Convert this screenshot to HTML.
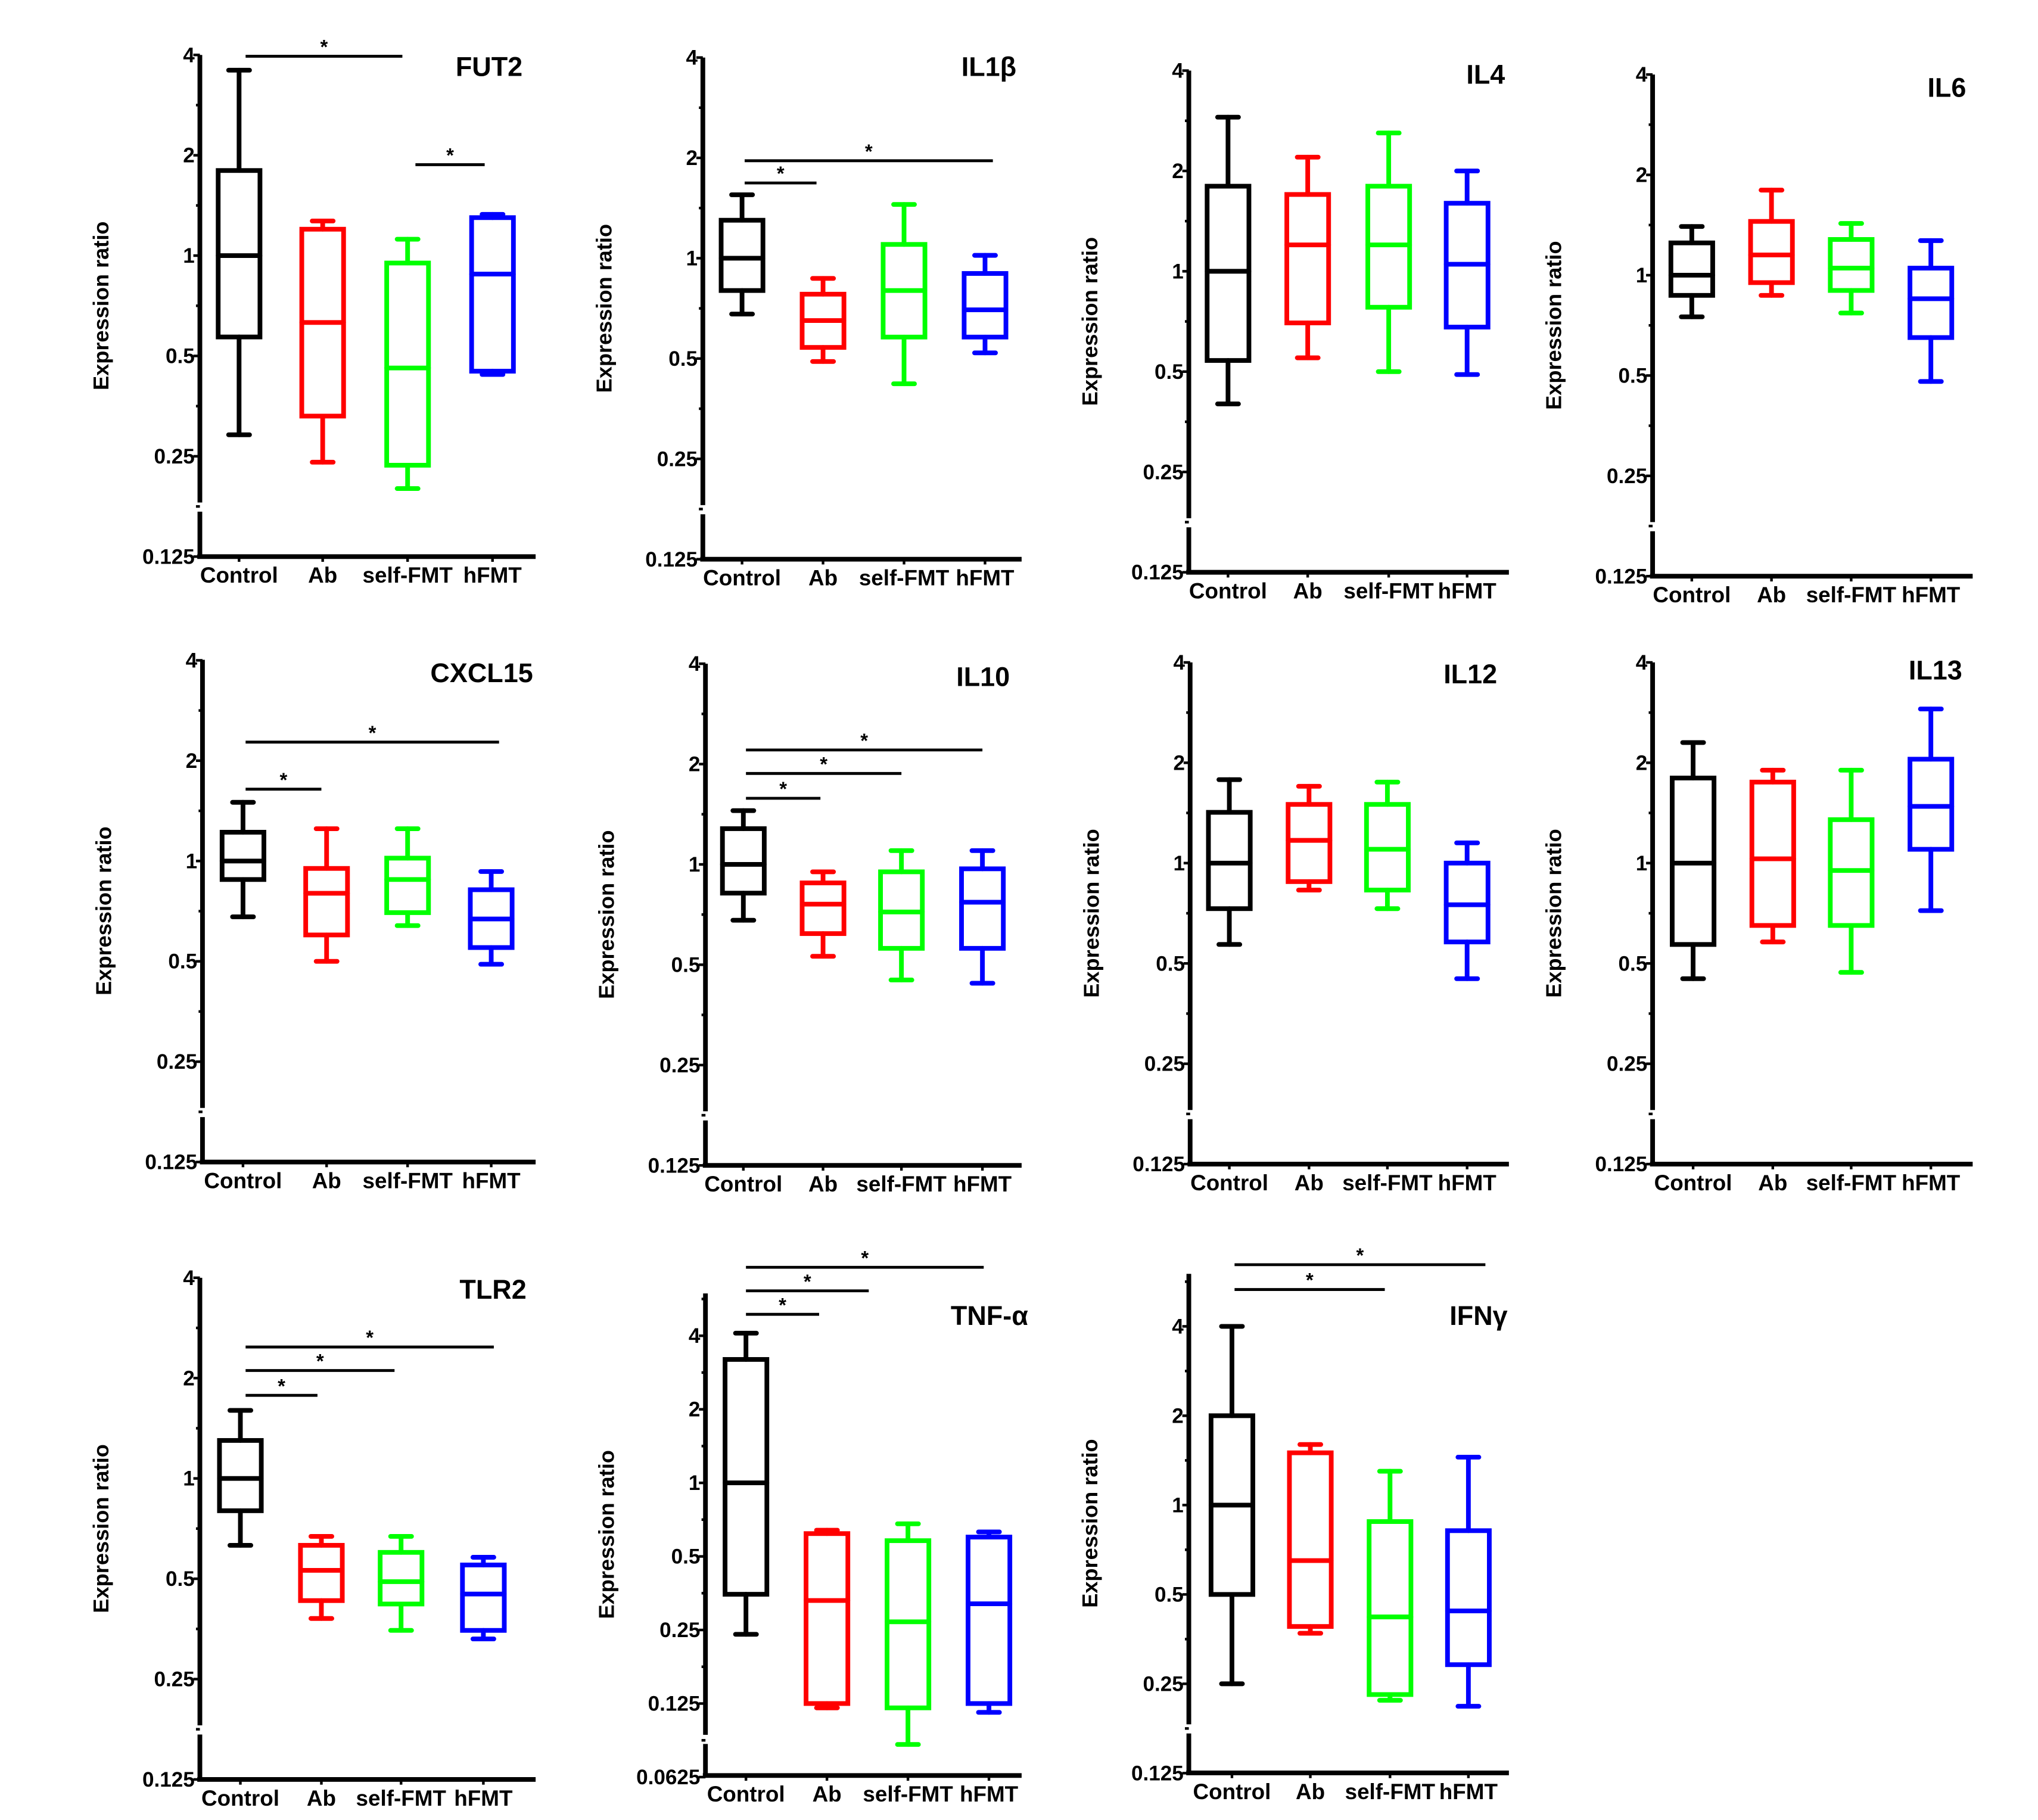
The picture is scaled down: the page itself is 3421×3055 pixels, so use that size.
<!DOCTYPE html>
<html><head><meta charset="utf-8"><style>
html,body{margin:0;padding:0;background:#fff}
svg{display:block}
text{font-family:"Liberation Sans",sans-serif;font-weight:bold;fill:#000}
</style></head><body>
<svg id="fig" width="3421" height="3055" viewBox="0 0 1560 1393" xmlns="http://www.w3.org/2000/svg"></svg>
<script>
const categories = ["Control","Ab","self-FMT","hFMT"];
const colors = ["#000000","#ff0000","#00ff00","#0000ff"];
// [min, q1, median, q3, max] per group
const fut2Data   = [[0.29,0.57,1,1.8,3.6],[0.24,0.33,0.63,1.2,1.27],[0.2,0.235,0.46,0.95,1.12],[0.44,0.45,0.88,1.3,1.33]];
const il1bData   = [[0.68,0.8,1,1.3,1.55],[0.49,0.54,0.65,0.78,0.87],[0.42,0.58,0.8,1.1,1.45],[0.52,0.58,0.7,0.9,1.02]];
const il4Data    = [[0.4,0.54,1,1.8,2.9],[0.55,0.7,1.2,1.7,2.2],[0.5,0.78,1.2,1.8,2.6],[0.49,0.68,1.05,1.6,2.0]];
const il6Data    = [[0.75,0.87,1,1.25,1.4],[0.87,0.95,1.15,1.45,1.8],[0.77,0.9,1.05,1.28,1.43],[0.48,0.65,0.85,1.05,1.27]];
const cxcl15Data = [[0.68,0.88,1,1.22,1.5],[0.5,0.6,0.8,0.95,1.25],[0.64,0.7,0.88,1.02,1.25],[0.49,0.55,0.67,0.82,0.93]];
const il10Data   = [[0.68,0.82,1,1.28,1.45],[0.53,0.62,0.76,0.88,0.95],[0.45,0.56,0.72,0.95,1.1],[0.44,0.56,0.77,0.97,1.1]];
const il12Data   = [[0.57,0.73,1,1.42,1.78],[0.83,0.88,1.17,1.5,1.7],[0.73,0.83,1.1,1.5,1.75],[0.45,0.58,0.75,1,1.15]];
const il13Data   = [[0.45,0.57,1,1.8,2.3],[0.58,0.65,1.03,1.75,1.9],[0.47,0.65,0.95,1.35,1.9],[0.72,1.1,1.48,2.05,2.9]];
const tlr2Data   = [[0.63,0.8,1,1.3,1.6],[0.38,0.43,0.53,0.63,0.67],[0.35,0.42,0.49,0.6,0.67],[0.33,0.35,0.45,0.55,0.58]];
const tnfData    = [[0.24,0.35,1,3.2,4.1],[0.12,0.125,0.33,0.62,0.64],[0.085,0.12,0.27,0.58,0.68],[0.115,0.125,0.32,0.6,0.63]];
const ifngData   = [[0.25,0.5,1,2,4],[0.37,0.39,0.65,1.5,1.6],[0.22,0.23,0.42,0.88,1.3],[0.21,0.29,0.44,0.82,1.45]];
const ticksStd = ["0.125","0.25","0.5","1","2","4"];
const ticksTnf = ["0.0625","0.125","0.25","0.5","1","2","4"];
const ticksIfn = ["0.125","0.25","0.5","1","2","4"];
// significance: [fromGroup, toGroup]
const sigFut2 = [[0,2],[2.1,3]];
const sigIl1b = [[0,1],[0,3]];
const sigCx = [[0,1],[0,3]];
const sigIl10 = [[0,1],[0,2],[0,3]];
const sigTlr2 = [[0,1],[0,2],[0,3]];
const sigTnf = [[0,1],[0,2],[0,3]];
const sigIfn = [[0,2],[0,3]];

// layout (positions, not data)
const panels = [
 {id:"fut2",title:"FUT2",data:fut2Data,ticks:ticksStd,ax:153,yOne:195.6,oct:76.8,yBot:426,yTop:42,xEnd:410,cx:[183,247,312,377],tx:400,ty:58,sig:sigFut2,sigY:[43,126],sigX0:[188,318],sigX1:[308,371]},
 {id:"il1b",title:"IL1β",data:il1bData,ticks:ticksStd,ax:538,yOne:197.6,oct:76.8,yBot:428,yTop:44,xEnd:782,cx:[568,630,692,754],tx:778,ty:58,sig:sigIl1b,sigY:[140,123],sigX0:[570,570],sigX1:[625,760]},
 {id:"il4",title:"IL4",data:il4Data,ticks:ticksStd,ax:910,yOne:207.6,oct:76.8,yBot:438,yTop:54,xEnd:1155,cx:[940,1001,1063,1123],tx:1152,ty:64,sig:[]},
 {id:"il6",title:"IL6",data:il6Data,ticks:ticksStd,ax:1265,yOne:210.6,oct:76.8,yBot:441,yTop:57,xEnd:1510,cx:[1295,1356,1417,1478],tx:1505,ty:74,sig:[]},
 {id:"cxcl15",title:"CXCL15",data:cxcl15Data,ticks:ticksStd,ax:155,yOne:659,oct:76.8,yBot:889.4,yTop:505,xEnd:410,cx:[186,250,312,376],tx:408,ty:522,sig:sigCx,sigY:[604,568],sigX0:[188,188],sigX1:[246,382]},
 {id:"il10",title:"IL10",data:il10Data,ticks:ticksStd,ax:540,yOne:661.6,oct:76.8,yBot:892,yTop:508,xEnd:782,cx:[569,630,690,752],tx:773,ty:525,sig:sigIl10,sigY:[611,592,574],sigX0:[571,571,571],sigX1:[628,690,752]},
 {id:"il12",title:"IL12",data:il12Data,ticks:ticksStd,ax:911,yOne:660.6,oct:76.8,yBot:891,yTop:507,xEnd:1155,cx:[941,1002,1062,1123],tx:1146,ty:523,sig:[]},
 {id:"il13",title:"IL13",data:il13Data,ticks:ticksStd,ax:1265,yOne:660.6,oct:76.8,yBot:891,yTop:507,xEnd:1510,cx:[1296,1357,1417,1478],tx:1502,ty:520,sig:[]},
 {id:"tlr2",title:"TLR2",data:tlr2Data,ticks:ticksStd,ax:153,yOne:1131.6,oct:76.8,yBot:1362,yTop:978,xEnd:410,cx:[184,246,307,370],tx:403,ty:994,sig:sigTlr2,sigY:[1068,1049,1031],sigX0:[188,188,188],sigX1:[243,302,378]},
 {id:"tnf",title:"TNF-α",data:tnfData,ticks:ticksTnf,ax:540,yOne:1135,oct:56.3,yBot:1359,yTop:990,xEnd:782,cx:[571,633,695,757],tx:787,ty:1014,sig:sigTnf,sigY:[1006,988,970],sigX0:[571,571,571],sigX1:[627,665,753]},
 {id:"ifng",title:"IFNγ",data:ifngData,ticks:ticksIfn,ax:910,yOne:1152,oct:68.4,yBot:1357,yTop:975,xEnd:1155,cx:[943,1003,1064,1124],tx:1154,ty:1014,sig:sigIfn,sigY:[987,968],sigX0:[945,945],sigX1:[1060,1137]}
];
const svg = document.getElementById('fig');
const NS = "http://www.w3.org/2000/svg";
function mk(tag, attrs, parent){const e=document.createElementNS(NS,tag);for(const k in attrs)e.setAttribute(k,attrs[k]);(parent||svg).appendChild(e);return e;}
const SW=3.6;
panels.forEach(p=>{
  const g = mk('g',{});
  
  
  const yS = v => p.yOne - Math.log2(v)*p.oct;
  const brk = p.yBot - p.oct*0.5;
  const ya = mk('path',{d:`M${p.ax},${p.yTop} V${brk-3} M${p.ax},${brk+4} V${p.yBot}`,stroke:'#000','stroke-width':SW,fill:'none'},g);
  
  
  const xa = mk('line',{x1:p.ax-2,y1:p.yBot,x2:p.xEnd,y2:p.yBot,stroke:'#000','stroke-width':SW},g);
  
  
  p.ticks.forEach((t,i)=>{
    const y = yS(parseFloat(t));
    mk('line',{x1:p.ax-5,y1:y,x2:p.ax,y2:y,stroke:'#000','stroke-width':2},g);
    const ym = y - p.oct/2;
    if(i<p.ticks.length-1 || ym>p.yTop) mk('line',{x1:p.ax-3,y1:ym,x2:p.ax,y2:ym,stroke:'#000','stroke-width':2},g);
    const tl = mk('text',{x:p.ax-4,y:y+5.5,'text-anchor':'end','font-size':16},g);
    tl.textContent=t;
    
    
  });
  const ymid=(p.yTop+p.yBot)/2;
  const yl = mk('text',{x:0,y:0,'text-anchor':'middle','font-size':16.5,transform:`translate(${p.ax-70},${ymid}) rotate(-90)`},g);
  yl.textContent='Expression ratio';
  
  
  const tt = mk('text',{x:p.tx,y:p.ty,'text-anchor':'end','font-size':20.5},g);
  tt.textContent=p.title;
  
  
  categories.forEach((c,i)=>{
    const x=p.cx[i];
    mk('line',{x1:x,y1:p.yBot,x2:x,y2:p.yBot+4,stroke:'#000','stroke-width':2},g);
    const cl = mk('text',{x:x,y:p.yBot+20,'text-anchor':'middle','font-size':16.8},g);
    cl.textContent=c;
    
    
    const d=p.data[i], col=colors[i], hw=16, cw=8;
    const bg = mk('g',{stroke:col,'stroke-width':SW,fill:'none','stroke-linecap':'round'},g);
    
    
    mk('line',{x1:x,y1:yS(d[0]),x2:x,y2:yS(d[1])},bg);
    mk('line',{x1:x,y1:yS(d[3]),x2:x,y2:yS(d[4])},bg);
    mk('line',{x1:x-cw,y1:yS(d[0]),x2:x+cw,y2:yS(d[0])},bg);
    mk('line',{x1:x-cw,y1:yS(d[4]),x2:x+cw,y2:yS(d[4])},bg);
    mk('rect',{x:x-hw,y:yS(d[3]),width:2*hw,height:yS(d[1])-yS(d[3]),'stroke-linecap':'square'},bg);
    mk('line',{x1:x-hw,y1:yS(d[2]),x2:x+hw,y2:yS(d[2])},bg);
  });
  p.sig.forEach((s,k)=>{
    const y=p.sigY[k], x0=p.sigX0[k], x1=p.sigX1[k];
    const sl = mk('line',{x1:x0,y1:y,x2:x1,y2:y,stroke:'#000','stroke-width':2.2},g);
    
    
    const st = mk('text',{x:(x0+x1)/2,y:y-2,'text-anchor':'middle','font-size':15},g);
    st.textContent='*';
    
    
  });
});
</script>
</body></html>
